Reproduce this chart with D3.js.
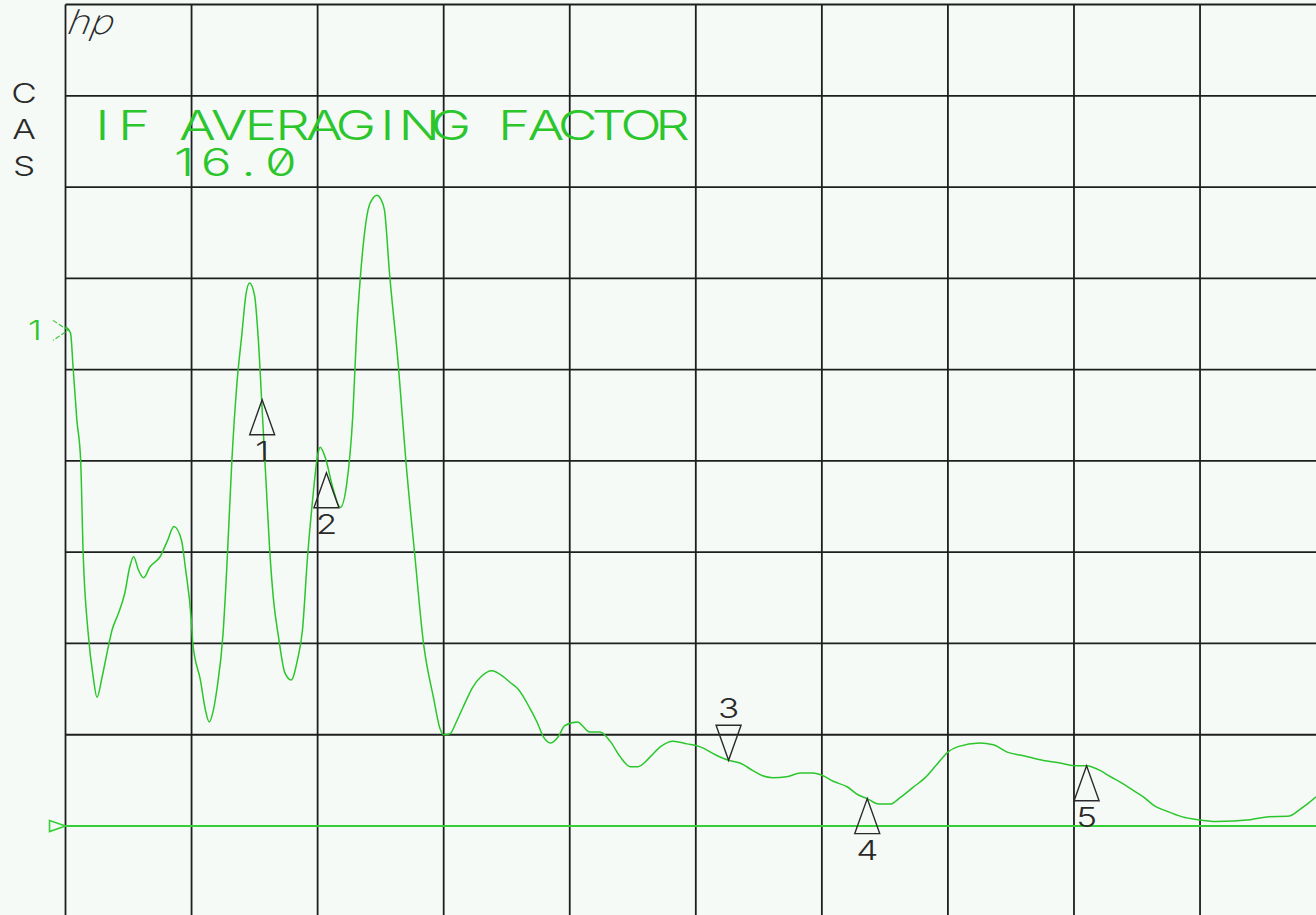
<!DOCTYPE html>
<html>
<head>
<meta charset="utf-8">
<script src="https://cdn.jsdelivr.net/npm/d3@7"></script>
<style>
  html, body { margin: 0; padding: 0; background: #f5faf7; overflow: hidden; }
  svg { display: block; }
  .hpfont { font-family: Inter, "DejaVu Sans", sans-serif; font-weight: 300; font-feature-settings: "zero" 1; }
</style>
</head>
<body>
<div id="screen"></div>
<script>
// Trace readings, in graticule divisions (x: 0..10 left to right, y: 0..10 bottom to top)
var traceX = [
  0.00, 0.04, 0.06, 0.09, 0.12, 0.14, 0.18, 0.22, 0.25, 0.29,
  0.33, 0.37, 0.42, 0.47, 0.51, 0.54, 0.58, 0.62, 0.67, 0.75,
  0.81, 0.86, 0.92, 0.95, 1.00, 1.01, 1.07, 1.11, 1.14, 1.17,
  1.20, 1.25, 1.28, 1.32, 1.36, 1.40, 1.43, 1.46, 1.50, 1.53,
  1.56, 1.59, 1.62, 1.65, 1.69, 1.74, 1.79, 1.84, 1.88, 1.92,
  1.96, 2.00, 2.02, 2.06, 2.12, 2.18, 2.23, 2.28, 2.31, 2.34,
  2.37, 2.40, 2.44, 2.47, 2.50, 2.53, 2.57, 2.64, 2.70, 2.77,
  2.84, 2.92, 2.97, 3.00, 3.05, 3.10, 3.15, 3.23, 3.30, 3.38,
  3.47, 3.53, 3.59, 3.68, 3.74, 3.79, 3.85, 3.91, 3.96, 4.06,
  4.16, 4.24, 4.32, 4.40, 4.48, 4.54, 4.64, 4.72, 4.82, 4.93,
  5.03, 5.17, 5.26, 5.35, 5.45, 5.53, 5.61, 5.72, 5.83, 5.93,
  6.01, 6.09, 6.20, 6.29, 6.36, 6.45, 6.54, 6.62, 6.72, 6.82,
  6.91, 7.00, 7.08, 7.25, 7.36, 7.47, 7.60, 7.75, 7.89, 8.02,
  8.10, 8.19, 8.29, 8.38, 8.47, 8.55, 8.63, 8.74, 8.86, 8.98,
  9.13, 9.40, 9.53, 9.71, 9.79, 9.86, 9.92
];
var traceY = [
  6.47, 6.40, 6.03, 5.45, 5.01, 3.99, 3.11, 2.63, 2.41, 2.63,
  2.90, 3.15, 3.33, 3.55, 3.84, 3.95, 3.80, 3.72, 3.84, 3.95,
  4.13, 4.28, 4.13, 3.84, 3.22, 3.00, 2.60, 2.27, 2.14, 2.25,
  2.49, 3.11, 3.84, 5.01, 5.85, 6.40, 6.81, 6.95, 6.81, 6.32,
  5.56, 4.79, 4.02, 3.48, 3.07, 2.68, 2.60, 2.82, 3.15, 3.95,
  4.57, 5.06, 5.15, 5.04, 4.71, 4.49, 4.74, 5.52, 6.43, 7.03,
  7.47, 7.75, 7.88, 7.91, 7.87, 7.75, 7.06, 6.05, 5.00, 3.98,
  3.00, 2.40, 2.07, 2.00, 2.01, 2.14, 2.29, 2.52, 2.64, 2.70,
  2.64, 2.57, 2.50, 2.30, 2.14, 1.98, 1.91, 1.98, 2.10, 2.14,
  2.03, 2.03, 1.93, 1.76, 1.65, 1.65, 1.76, 1.87, 1.93, 1.90,
  1.87, 1.77, 1.72, 1.69, 1.61, 1.55, 1.53, 1.54, 1.58, 1.58,
  1.55, 1.49, 1.43, 1.34, 1.30, 1.24, 1.24, 1.31, 1.42, 1.53,
  1.67, 1.81, 1.87, 1.91, 1.89, 1.81, 1.77, 1.72, 1.69, 1.66,
  1.66, 1.62, 1.54, 1.47, 1.39, 1.32, 1.23, 1.16, 1.10, 1.07,
  1.05, 1.07, 1.10, 1.11, 1.18, 1.25, 1.32
];

// Markers
var markerNames = ["1", "2", "3", "4", "5"];
var markerX = [1.56, 2.07, 5.26, 6.36, 8.10];
var markerY = [5.67, 4.87, 1.72, 1.30, 1.66];
var markerDir = ["up", "up", "down", "up", "up"];

// Reference line and reference position
var refLevel = 1.0;
var refPosition = 6.43;
var refName = "1";

// Graticule
var xTicks = d3.range(0, 11);
var yTicks = d3.range(0, 11);

// Texts
var titleText = "IF AVERAGING FACTOR";
var factorText = "16.0";
var channelText = ["C", "A", "S"];
var logoText = "hp";

var W = 1316, H = 915;
var traceGreen = "#2bc62b";
var gridColor = "#1e1e1e";
var inkColor = "#2a2a2a";

var svg = d3.select("#screen")
    .append("svg")
    .attr("width", W)
    .attr("height", H);

svg.append("rect").attr("width", W).attr("height", H).attr("fill", "#f5faf7");

// scales: 10 x 10 graticule, partially off the right and bottom edge
var x = d3.scaleLinear().domain([0, 10]).range([65.5, 1326.1]);
var y = d3.scaleLinear().domain([0, 10]).range([917.3, 4.5]);

// Grid
var grid = svg.append("g");
grid.selectAll(".vline")
    .data(xTicks)
    .enter()
    .append("line")
    .attr("x1", function (d) { return x(d); })
    .attr("x2", function (d) { return x(d); })
    .attr("y1", y(10))
    .attr("y2", y(0))
    .style("stroke", gridColor)
    .style("stroke-width", 1.8);

grid.selectAll(".hline")
    .data(yTicks)
    .enter()
    .append("line")
    .attr("x1", x(0))
    .attr("x2", x(10))
    .attr("y1", function (d) { return y(d); })
    .attr("y2", function (d) { return y(d); })
    .style("stroke", gridColor)
    .style("stroke-width", 1.8);

// Instrument style lettering: fixed pitch, glyphs widened a little.
// One text element per string; x list places each glyph in its cell.
function hpText(parent, str, x0, baseline, pitch, size, sx, color) {
    var xs = str.split("").map(function (c, i) { return (x0 + i * pitch) / sx; }).join(" ");
    return parent.append("text")
        .attr("class", "hpfont")
        .attr("transform", "scale(" + sx + ",1)")
        .attr("x", xs)
        .attr("y", baseline)
        .attr("text-anchor", "middle")
        .style("font-size", size + "px")
        .style("fill", color)
        .text(str);
}

// hp logo
svg.append("text")
    .attr("class", "hpfont")
    .attr("transform", "translate(" + (x(0) + 1) + "," + (y(10) + 29) + ") skewX(-12) scale(1.15,1)")
    .style("font-size", "34px")
    .style("font-weight", 200)
    .style("font-style", "italic")
    .style("fill", inkColor)
    .text(logoText);

// Channel label, stacked letters
channelText.forEach(function (c, i) {
    hpText(svg, c, 24, 103 + i * 36.5, 0, 27, 1.3, inkColor);
});

// Title
hpText(svg, titleText, 102.5, 140, 31.67, 40.5, 1.35, traceGreen);
hpText(svg, factorText, 184, 176, 32.3, 38, 1.35, traceGreen);

// Reference position marker "1 >"
var yr = y(refPosition);
hpText(svg, refName, 35, yr + 10, 0, 27, 1.3, traceGreen);
svg.append("path")
    .attr("d", d3.line()([[x(0) - 12.5, yr - 10], [x(0) + 2.5, yr], [x(0) - 12.5, yr + 10]]))
    .style("fill", "none")
    .style("stroke", traceGreen)
    .style("stroke-width", 1.1)
    .style("stroke-dasharray", "5,2");

// Reference line with its left triangle
var yl = y(refLevel);
svg.append("line")
    .attr("x1", x(0) - 1)
    .attr("x2", W)
    .attr("y1", yl)
    .attr("y2", yl)
    .style("stroke", "#36cf36")
    .style("stroke-width", 2);
svg.append("path")
    .attr("d", d3.line()([[x(0) - 16, yl - 5.5], [x(0), yl], [x(0) - 16, yl + 5.5]]) + "Z")
    .style("fill", "none")
    .style("stroke", "#36cf36")
    .style("stroke-width", 1.6);

// Trace
var idx = d3.range(traceX.length);
var line = d3.line()
    .x(function (i) { return x(traceX[i]); })
    .y(function (i) { return y(traceY[i]); })
    .curve(d3.curveMonotoneX);

svg.append("path")
    .datum(idx)
    .attr("d", line)
    .style("fill", "none")
    .style("stroke", traceGreen)
    .style("stroke-width", 1.5);

// Markers
var mk = svg.append("g")
    .selectAll("g")
    .data(markerNames)
    .enter()
    .append("g")
    .attr("transform", function (d, i) {
        return "translate(" + x(markerX[i]) + "," + y(markerY[i]) + ")";
    });

mk.append("path")
    .attr("d", function (d, i) {
        var s = markerDir[i] === "up" ? 1 : -1;
        return d3.line()([[0, 0], [-12.5, 35 * s], [12.5, 35 * s]]) + "Z";
    })
    .style("fill", "none")
    .style("stroke", inkColor)
    .style("stroke-width", 1.4);

mk.each(function (d, i) {
    hpText(d3.select(this), d, 0, markerDir[i] === "up" ? 61 : -42, 0, 27, 1.3, inkColor);
});
</script>
</body>
</html>
